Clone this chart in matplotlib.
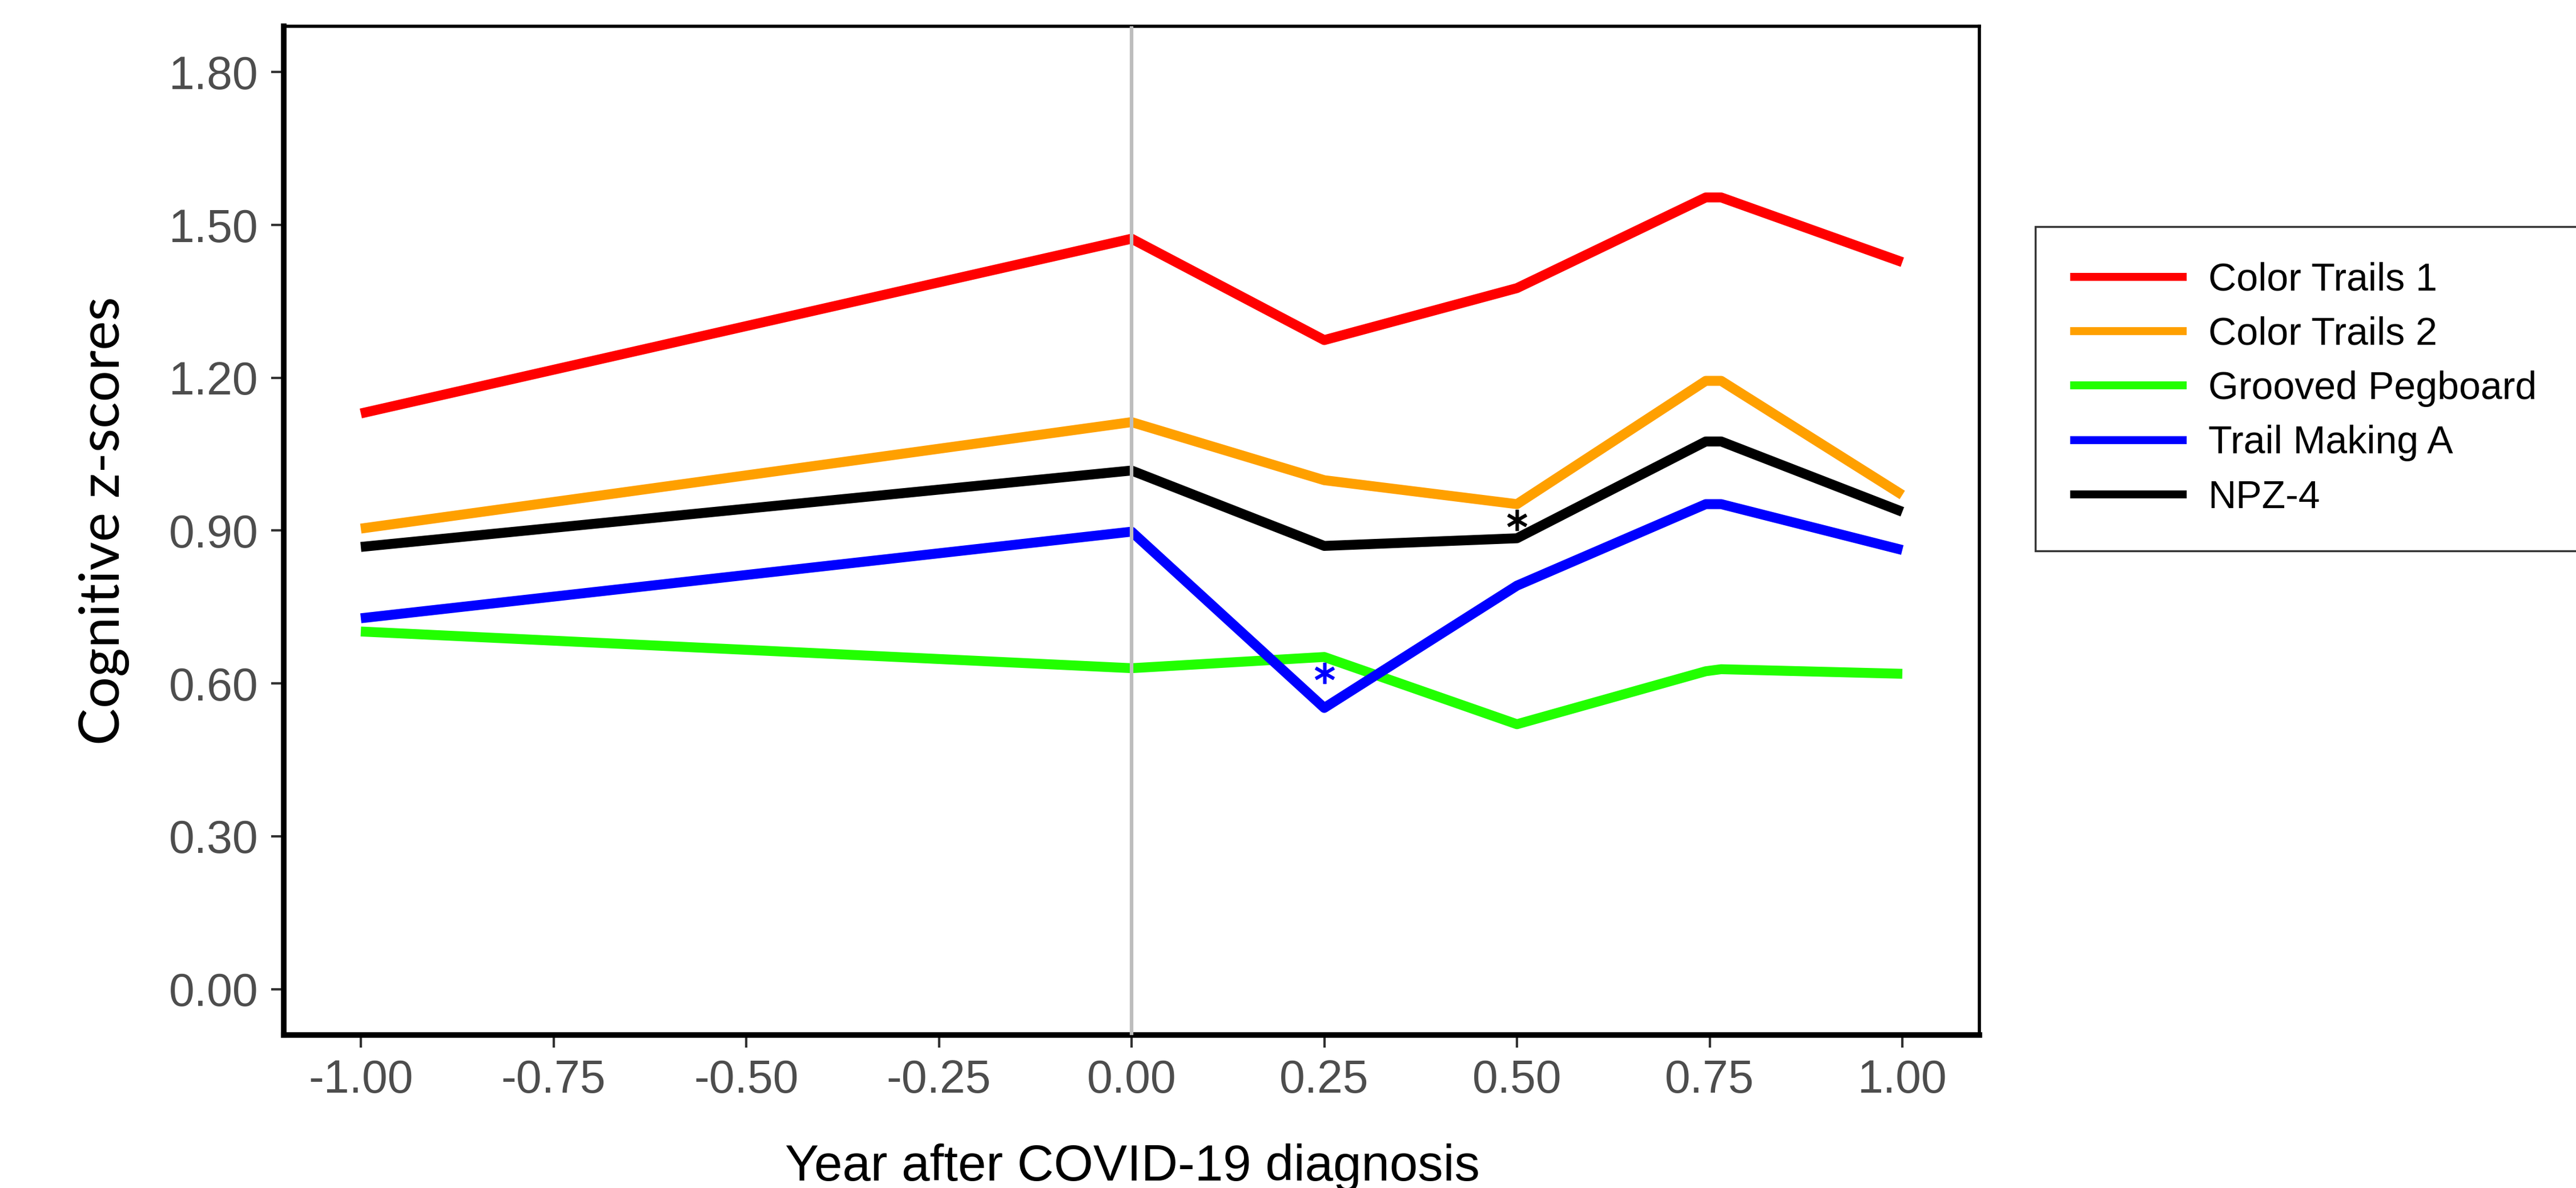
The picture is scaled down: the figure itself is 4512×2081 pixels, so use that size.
import matplotlib
matplotlib.use("Agg")
import matplotlib.pyplot as plt

# years after diagnosis (two close points around 0.75 give the flat peaks)
years = [-1.0, 0.0, 0.25, 0.5, 0.745, 0.765, 1.0]

color_trails_1 = [1.130, 1.473, 1.274, 1.376, 1.554, 1.554, 1.427]
color_trails_2 = [0.904, 1.113, 0.999, 0.952, 1.194, 1.194, 0.970]
grooved_pegboard = [0.702, 0.630, 0.652, 0.520, 0.624, 0.628, 0.619]
trail_making_a = [0.728, 0.898, 0.552, 0.792, 0.952, 0.952, 0.862]
npz_4 = [0.868, 1.018, 0.870, 0.885, 1.075, 1.075, 0.937]

series_names = ["Color Trails 1", "Color Trails 2", "Grooved Pegboard",
                "Trail Making A", "NPZ-4"]
series_colors = ["#FF0000", "#FFA000", "#22FF00", "#0000FF", "#000000"]

# significance marks (year, z-score, colour)
star_years = [0.25, 0.5]
star_values = [0.620, 0.921]
star_colors = ["#0000FF", "#000000"]

x_ticks = [-1.0, -0.75, -0.5, -0.25, 0.0, 0.25, 0.5, 0.75, 1.0]
y_ticks = [0.0, 0.3, 0.6, 0.9, 1.2, 1.5, 1.8]

W, H = 4512, 2081
fig = plt.figure(figsize=(W / 100, H / 100), dpi=100)
ax = fig.add_axes([497 / W, 1 - 1813 / H, (3467 - 497) / W, (1813 - 46) / H])

all_series = [color_trails_1, color_trails_2, grooved_pegboard, trail_making_a, npz_4]
for vals, name, col in zip(all_series, series_names, series_colors):
    ax.plot(years, vals, color=col, lw=12.5, label=name,
            solid_capstyle="butt", solid_joinstyle="round", zorder=3)

# vertical reference line at diagnosis (drawn above the lines, as in the original)
ax.axvline(0.0, color="#BDBDBD", lw=4.5, zorder=4)

for sx, sy, sc in zip(star_years, star_values, star_colors):
    ax.plot([sx], [sy], marker=r"$\ast$", ms=26, color=sc, ls="none", zorder=5)

ax.set_xlim(-1.1, 1.1)
ax.set_ylim(-0.09, 1.89)
ax.set_xticks(x_ticks)
ax.set_xticklabels([f"{v:.2f}" for v in x_ticks])
ax.set_yticks(y_ticks)
ax.set_yticklabels([f"{v:.2f}" for v in y_ticks])

ax.tick_params(axis="both", length=16, width=3, color="#333333", labelcolor="#4D4D4D")
ax.tick_params(axis="y", labelsize=58, pad=16)
ax.tick_params(axis="x", labelsize=58, pad=14)
for lab in ax.get_xticklabels() + ax.get_yticklabels():
    lab.set_fontfamily("Liberation Sans")

for side in ["left", "bottom"]:
    ax.spines[side].set_linewidth(7)
for side in ["top", "right"]:
    ax.spines[side].set_linewidth(4)
for sp in ax.spines.values():
    sp.set_color("#000000")

fig.text(1983 / W, 1 - 2068 / H, "Year after COVID-19 diagnosis", ha="center",
         va="baseline", fontsize=64, family="Liberation Sans")
fig.text(183 / W, 1 - 912 / H, "Cognitive z-scores", rotation=90, ha="center",
         va="center", fontsize=70, family="Lato")

leg = ax.legend(loc="upper left", bbox_to_anchor=(3565 / W, 1 - 418 / H, (4700 - 3565) / W, 0.01),
                bbox_transform=fig.transFigure, mode="expand", borderaxespad=0,
                prop={"family": "Liberation Sans", "size": 49},
                handlelength=3.0, handletextpad=0.55, labelspacing=0.46,
                borderpad=0.9, fancybox=False, frameon=True)
leg.get_frame().set_edgecolor("#000000")
leg.get_frame().set_linewidth(2.5)
for line in leg.get_lines():
    line.set_linewidth(10)

fig.savefig("out.png", dpi=100)
